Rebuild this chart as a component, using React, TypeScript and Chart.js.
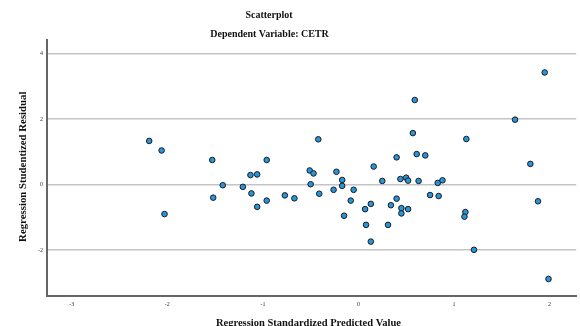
import { useEffect, useRef } from 'react';
import { Chart, registerables } from 'chart.js';

Chart.register(...registerables);

const chartTitle = 'Scatterplot';
const chartSubtitle = 'Dependent Variable: CETR';
const xAxisTitle = 'Regression Standardized Predicted Value';
const yAxisTitle = 'Regression Studentized Residual';

const xTicks = [-3, -2, -1, 0, 1, 2];
const yTicks = [-2, 0, 2, 4];

const predicted = [
  -2.19, -2.06, -2.03, -1.53, -1.52, -1.42, -1.21, -1.13, -1.06, -1.12,
  -1.06, -0.96, -0.96, -0.77, -0.67, -0.51, -0.47, -0.50, -0.42, -0.41,
  0.59, 1.64, 0.57, 1.13, 0.40, 0.61, 0.70, 0.16, 1.80, -0.23,
  -0.17, -0.17, -0.26, -0.05, -0.08, -0.15, 0.25, 0.44, 0.50, 0.52,
  0.63, 0.83, 0.88, 0.75, 0.84, 0.40, 0.34, 0.13, 0.07, 0.45,
  0.52, 0.45, 0.08, 0.31, 0.13, 1.12, 1.11, 1.21, 1.88, 1.99,
  1.95,
];

const residual = [
  1.33, 1.04, -0.90, 0.75, -0.40, -0.02, -0.07, 0.29, 0.31, -0.27,
  -0.68, 0.75, -0.49, -0.33, -0.42, 0.43, 0.34, 0.01, 1.38, -0.28,
  2.58, 1.98, 1.57, 1.39, 0.83, 0.93, 0.89, 0.55, 0.63, 0.39,
  0.14, -0.04, -0.16, -0.16, -0.49, -0.95, 0.11, 0.17, 0.21, 0.12,
  0.11, 0.05, 0.13, -0.32, -0.35, -0.43, -0.63, -0.59, -0.75, -0.72,
  -0.75, -0.88, -1.23, -1.23, -1.74, -0.84, -0.98, -1.99, -0.51, -2.88,
  3.42,
];

const serif = '"Liberation Serif", "Times New Roman", serif';

export default function App() {
  const ref = useRef<HTMLCanvasElement>(null);

  useEffect(() => {
    const canvas = ref.current;
    if (!canvas) return;

    const textPlugin = {
      id: 'spssTexts',
      afterDraw(chart: any) {
        const ctx = chart.ctx as CanvasRenderingContext2D;
        ctx.save();
        ctx.fillStyle = '#111';
        ctx.textAlign = 'center';
        ctx.textBaseline = 'alphabetic';
        ctx.font = `bold 10px ${serif}`;
        ctx.fillText(chartTitle, 269, 17.5);
        ctx.fillText(chartSubtitle, 269.5, 36.5);
        ctx.font = `bold 10.5px ${serif}`;
        ctx.fillText(xAxisTitle, 308.5, 325.5);
        ctx.font = `bold 10.8px ${serif}`;
        ctx.translate(25.5, 166.7);
        ctx.rotate(-Math.PI / 2);
        ctx.fillText(yAxisTitle, 0, 0);
        ctx.restore();
      },
    };

    const chart = new Chart(canvas, {
      type: 'scatter',
      data: {
        datasets: [
          {
            data: predicted.map((x, i) => ({ x, y: residual[i] })),
            backgroundColor: '#2795dc',
            borderColor: '#1c1c1c',
            borderWidth: 1,
            pointRadius: 2.8,
            pointHoverRadius: 2.8,
          },
        ],
      },
      options: {
        responsive: false,
        animation: false,
        events: [],
        layout: { padding: { top: 40, left: 0, right: 0, bottom: 0 } },
        plugins: {
          legend: { display: false },
          tooltip: { enabled: false },
          title: { display: false },
        },
        scales: {
          x: {
            type: 'linear',
            min: -3.26,
            max: 2.28,
            afterBuildTicks: (s: any) => {
              s.ticks = xTicks.map((v) => ({ value: v }));
            },
            afterFit: (s: any) => {
              s.height = 30;
            },
            grid: { display: true, drawTicks: false, color: 'rgba(0,0,0,0)' },
            border: { display: true, color: '#666', width: 2 },
            ticks: {
              font: { family: serif, size: 6 },
              color: '#333',
              padding: 5,
              maxRotation: 0,
              autoSkip: false,
            },
          },
          y: {
            type: 'linear',
            min: -3.4,
            max: 4.41,
            afterBuildTicks: (s: any) => {
              s.ticks = yTicks.map((v) => ({ value: v }));
            },
            afterFit: (s: any) => {
              s.width = 47;
            },
            grid: { display: true, drawTicks: false, color: '#c4c4c4', lineWidth: 1.5 },
            border: { display: true, color: '#666', width: 2 },
            ticks: {
              font: { family: serif, size: 6 },
              color: '#333',
              padding: 4,
              autoSkip: false,
            },
          },
        },
      },
      plugins: [textPlugin],
    } as any);

    return () => chart.destroy();
  }, []);

  return (
    <div style={{ position: 'fixed', left: 0, top: 0, width: 580, height: 326, background: '#fff' }}>
      <canvas ref={ref} width={580} height={326} style={{ display: 'block' }} />
    </div>
  );
}
